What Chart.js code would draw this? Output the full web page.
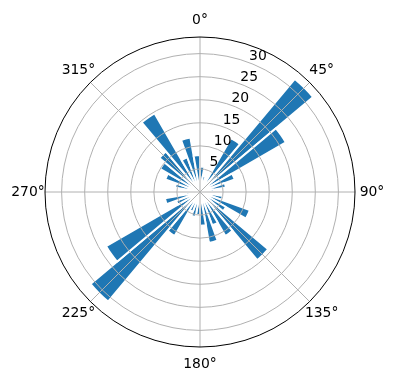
<!DOCTYPE html>
<html lang="en">
  <head>
    <meta charset="UTF-8" />
    <title>Polar bar chart</title>
    <style>
      html,
      body {
        margin: 0;
        padding: 0;
        background: #fff;
      }
    </style>
  </head>
  <body>
    <canvas id="myChart" width="396" height="380"></canvas>
    <script src="https://cdn.jsdelivr.net/npm/chart.js"></script>
    <script>
      // bin centres (degrees, clockwise from north), 10 degree bins
      const directions = [
        5, 15, 25, 35, 45, 55, 65, 75, 85, 95, 105, 115, 125, 135, 145, 155,
        165, 175, 185, 195, 205, 215, 225, 235, 245, 255, 265, 275, 285, 295,
        305, 315, 325, 335, 345, 355
      ];
      const counts = [
        5.5, 3.5, 2.5, 13.5, 32, 21.5, 8, 5.7, 3, 2, 5, 11.5, 6.5, 19.3, 11,
        7.7, 11.2, 7.3, 5, 5.5, 4.5, 11, 31, 23.5, 5.5, 7.7, 3, 2.5, 5.5, 8,
        10, 11.5, 19.7, 8, 12, 8
      ];
      const radialTicks = [5, 10, 15, 20, 25, 30];
      const angleTicks = [0, 45, 90, 135, 180, 225, 270, 315];

      const rMax = Math.max(...counts) * 1.05;
      const labelFont = "13.9px 'DejaVu Sans'";

      function toXY(scale, deg, dist) {
        const t = (deg * Math.PI) / 180;
        return [scale.xCenter + dist * Math.sin(t), scale.yCenter - dist * Math.cos(t)];
      }

      const polarFrame = {
        id: "polarFrame",
        afterDatasetsDraw(chart) {
          const r = chart.scales.r;
          const c = chart.ctx;
          c.save();
          c.strokeStyle = "#b0b0b0";
          c.lineWidth = 1;
          angleTicks.forEach(a => {
            const [x, y] = toXY(r, a, r.drawingArea);
            c.beginPath();
            c.moveTo(r.xCenter, r.yCenter);
            c.lineTo(x, y);
            c.stroke();
          });
          c.restore();
        },
        afterDraw(chart) {
          const r = chart.scales.r;
          const c = chart.ctx;
          c.save();
          c.fillStyle = "#000";
          c.font = labelFont;
          c.textAlign = "center";
          c.textBaseline = "middle";
          angleTicks.forEach(a => {
            const [x, y] = toXY(r, a, r.drawingArea + 17);
            c.fillText(a + "°", x, y);
          });
          radialTicks.forEach(v => {
            const [x, y] = toXY(r, 22.5, r.getDistanceFromCenterForValue(v));
            c.fillText(String(v), x + 5, y - 8);
          });
          c.restore();
        }
      };

      const ctx = document.querySelector("#myChart");

      new Chart(ctx, {
        type: "polarArea",
        data: {
          labels: directions.map(d => d + "°"),
          datasets: [
            {
              data: counts,
              backgroundColor: "#1f77b4",
              borderColor: "#fff",
              borderWidth: 2
            }
          ]
        },
        options: {
          responsive: false,
          animation: false,
          layout: {
            padding: { left: 45, right: 40, top: 37, bottom: 32 }
          },
          plugins: {
            legend: { display: false },
            tooltip: { enabled: false }
          },
          scales: {
            r: {
              min: 0,
              max: rMax,
              startAngle: 0,
              afterBuildTicks: scale => {
                scale.ticks = [0, ...radialTicks, rMax].map(v => ({ value: v }));
              },
              ticks: { display: false },
              pointLabels: { display: false },
              angleLines: { display: false },
              grid: {
                z: 1,
                circular: true,
                lineWidth: 1,
                color: c => (c.tick && c.tick.value === rMax ? "#000" : "#b0b0b0")
              }
            }
          }
        },
        plugins: [polarFrame]
      });
    </script>
  </body>
</html>
